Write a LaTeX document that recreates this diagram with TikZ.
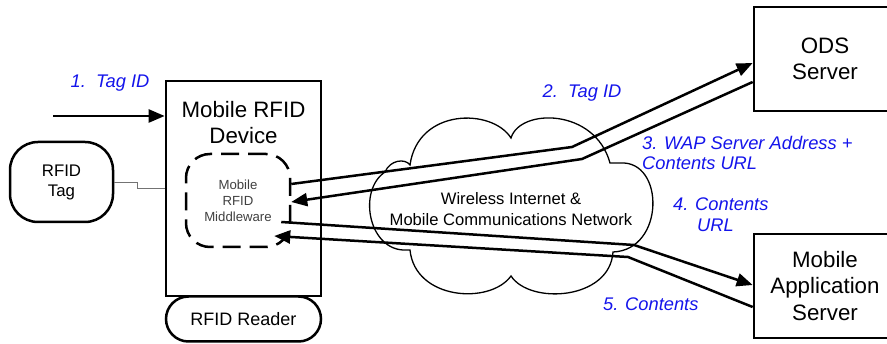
\documentclass[tikz,border=0pt]{standalone}
\usepackage{fontspec}
\setmainfont{Liberation Sans}
\usetikzlibrary{arrows.meta,calc}
\definecolor{lblblue}{RGB}{20,20,235}
\begin{document}
\begin{tikzpicture}[x=1pt,y=-1pt,
  box/.style={draw,line width=2.7pt,inner sep=0pt},
  big/.style={font=\fontsize{22.3}{26.5}\selectfont,align=center},
  lbl/.style={text=lblblue,font=\fontsize{18.3}{20.5}\selectfont\itshape,inner sep=0pt},
  flow/.style={line width=2.5pt,-{Triangle[length=16pt,width=13pt]}},
  roundbox/.style={draw,line width=2.5pt,align=center,inner sep=0pt},
  cloudline/.style={line width=1.3pt},
  wire/.style={draw=black!55,line width=0.8pt}
]
\useasboundingbox (0,0) rectangle (887,344);

% cloud
\draw[cloudline] (403,250) .. controls (368,248) and (358,190) .. (385,172)
  .. controls (390,160) and (405,158) .. (410,165)
  .. controls (418,108) and (492,108) .. (511,138)
  .. controls (520,108) and (595,108) .. (610,163) -- (620,163)
  .. controls (665,160) and (665,250) .. (613,252)
  .. controls (610,300) and (530,305) .. (511,276)
  .. controls (490,305) and (415,300) .. (410,250) -- cycle;
\node[font=\fontsize{16.6}{21}\selectfont,align=center] (net) at (511,209.5)
  {Wireless Internet \&\\Mobile Communications Network};

% boxes
\node[box,minimum width=155pt,minimum height=215pt] (dev) at (243.5,188.5) {};
\node[big] (devtxt) at (243.5,122.5) {Mobile RFID\\Device};
\node[draw,line width=2.5pt,dash pattern=on 18pt off 9pt,rounded corners=24pt,
  minimum width=104pt,minimum height=93pt,align=center,text=black!75,
  font=\fontsize{13.2}{16}\selectfont] (mw) at (238,200.5) {Mobile\\RFID\\Middleware};
\node[roundbox,rounded corners=28pt,minimum width=103pt,minimum height=80pt,
  font=\fontsize{16.8}{20}\selectfont] (tag) at (61.5,182) {RFID\\Tag};
\node[roundbox,rounded corners=22.5pt,minimum width=155pt,minimum height=45pt,
  font=\fontsize{18}{20}\selectfont] (reader) at (243.5,319) {RFID Reader};
\node[box,big,minimum width=142pt,minimum height=104pt] (ods) at (825,59) {ODS\\Server};
\node[box,big,minimum width=142pt,minimum height=104pt] (app) at (825,286) {Mobile\\Application\\Server};

% tag wire
\coordinate (w1) at (137,182);
\coordinate (w2) at (137,188);
\draw[wire] (tag.east) -- (w1) -- (w2) -- (dev.west |- w2);

% flows
\coordinate (in1) at (53,116);
\draw[flow] (in1) -- (dev.west |- in1);

\coordinate (b2) at (572,147);
\coordinate (b3) at (582,159);
\coordinate (b4) at (634,245);
\coordinate (b5) at (628,257);
\coordinate (s4) at ($(mw.east |- 0,222)+(-10,0)$);
\coordinate (t5) at ($(mw.east |- 0,236)+(-17,0)$);

\draw[flow] (mw.east |- 0,184) -- (b2) -- (ods.west |- 0,63);
\draw[flow] (ods.west |- 0,82) -- (b3) -- (mw.east |- 0,202);
\draw[flow] (s4) -- (b4) -- (app.west |- 0,285);
\draw[flow] (app.west |- 0,307) -- (b5) -- (t5);

% labels
\node[lbl] (l1) at (110,83) {1.\ \ Tag ID};
\node[lbl] (l2) at (582,93) {2.\ \ Tag ID};
\node[lbl,anchor=west,align=left] (l3) at (642,153) {3. WAP Server Address +\\Contents URL};
\node[lbl,anchor=west,align=left] (l4) at (673,214.5) {4. Contents\\\hspace*{24pt}URL};
\node[lbl,anchor=west] (l5) at (603,304) {5. Contents};
\end{tikzpicture}
\end{document}
